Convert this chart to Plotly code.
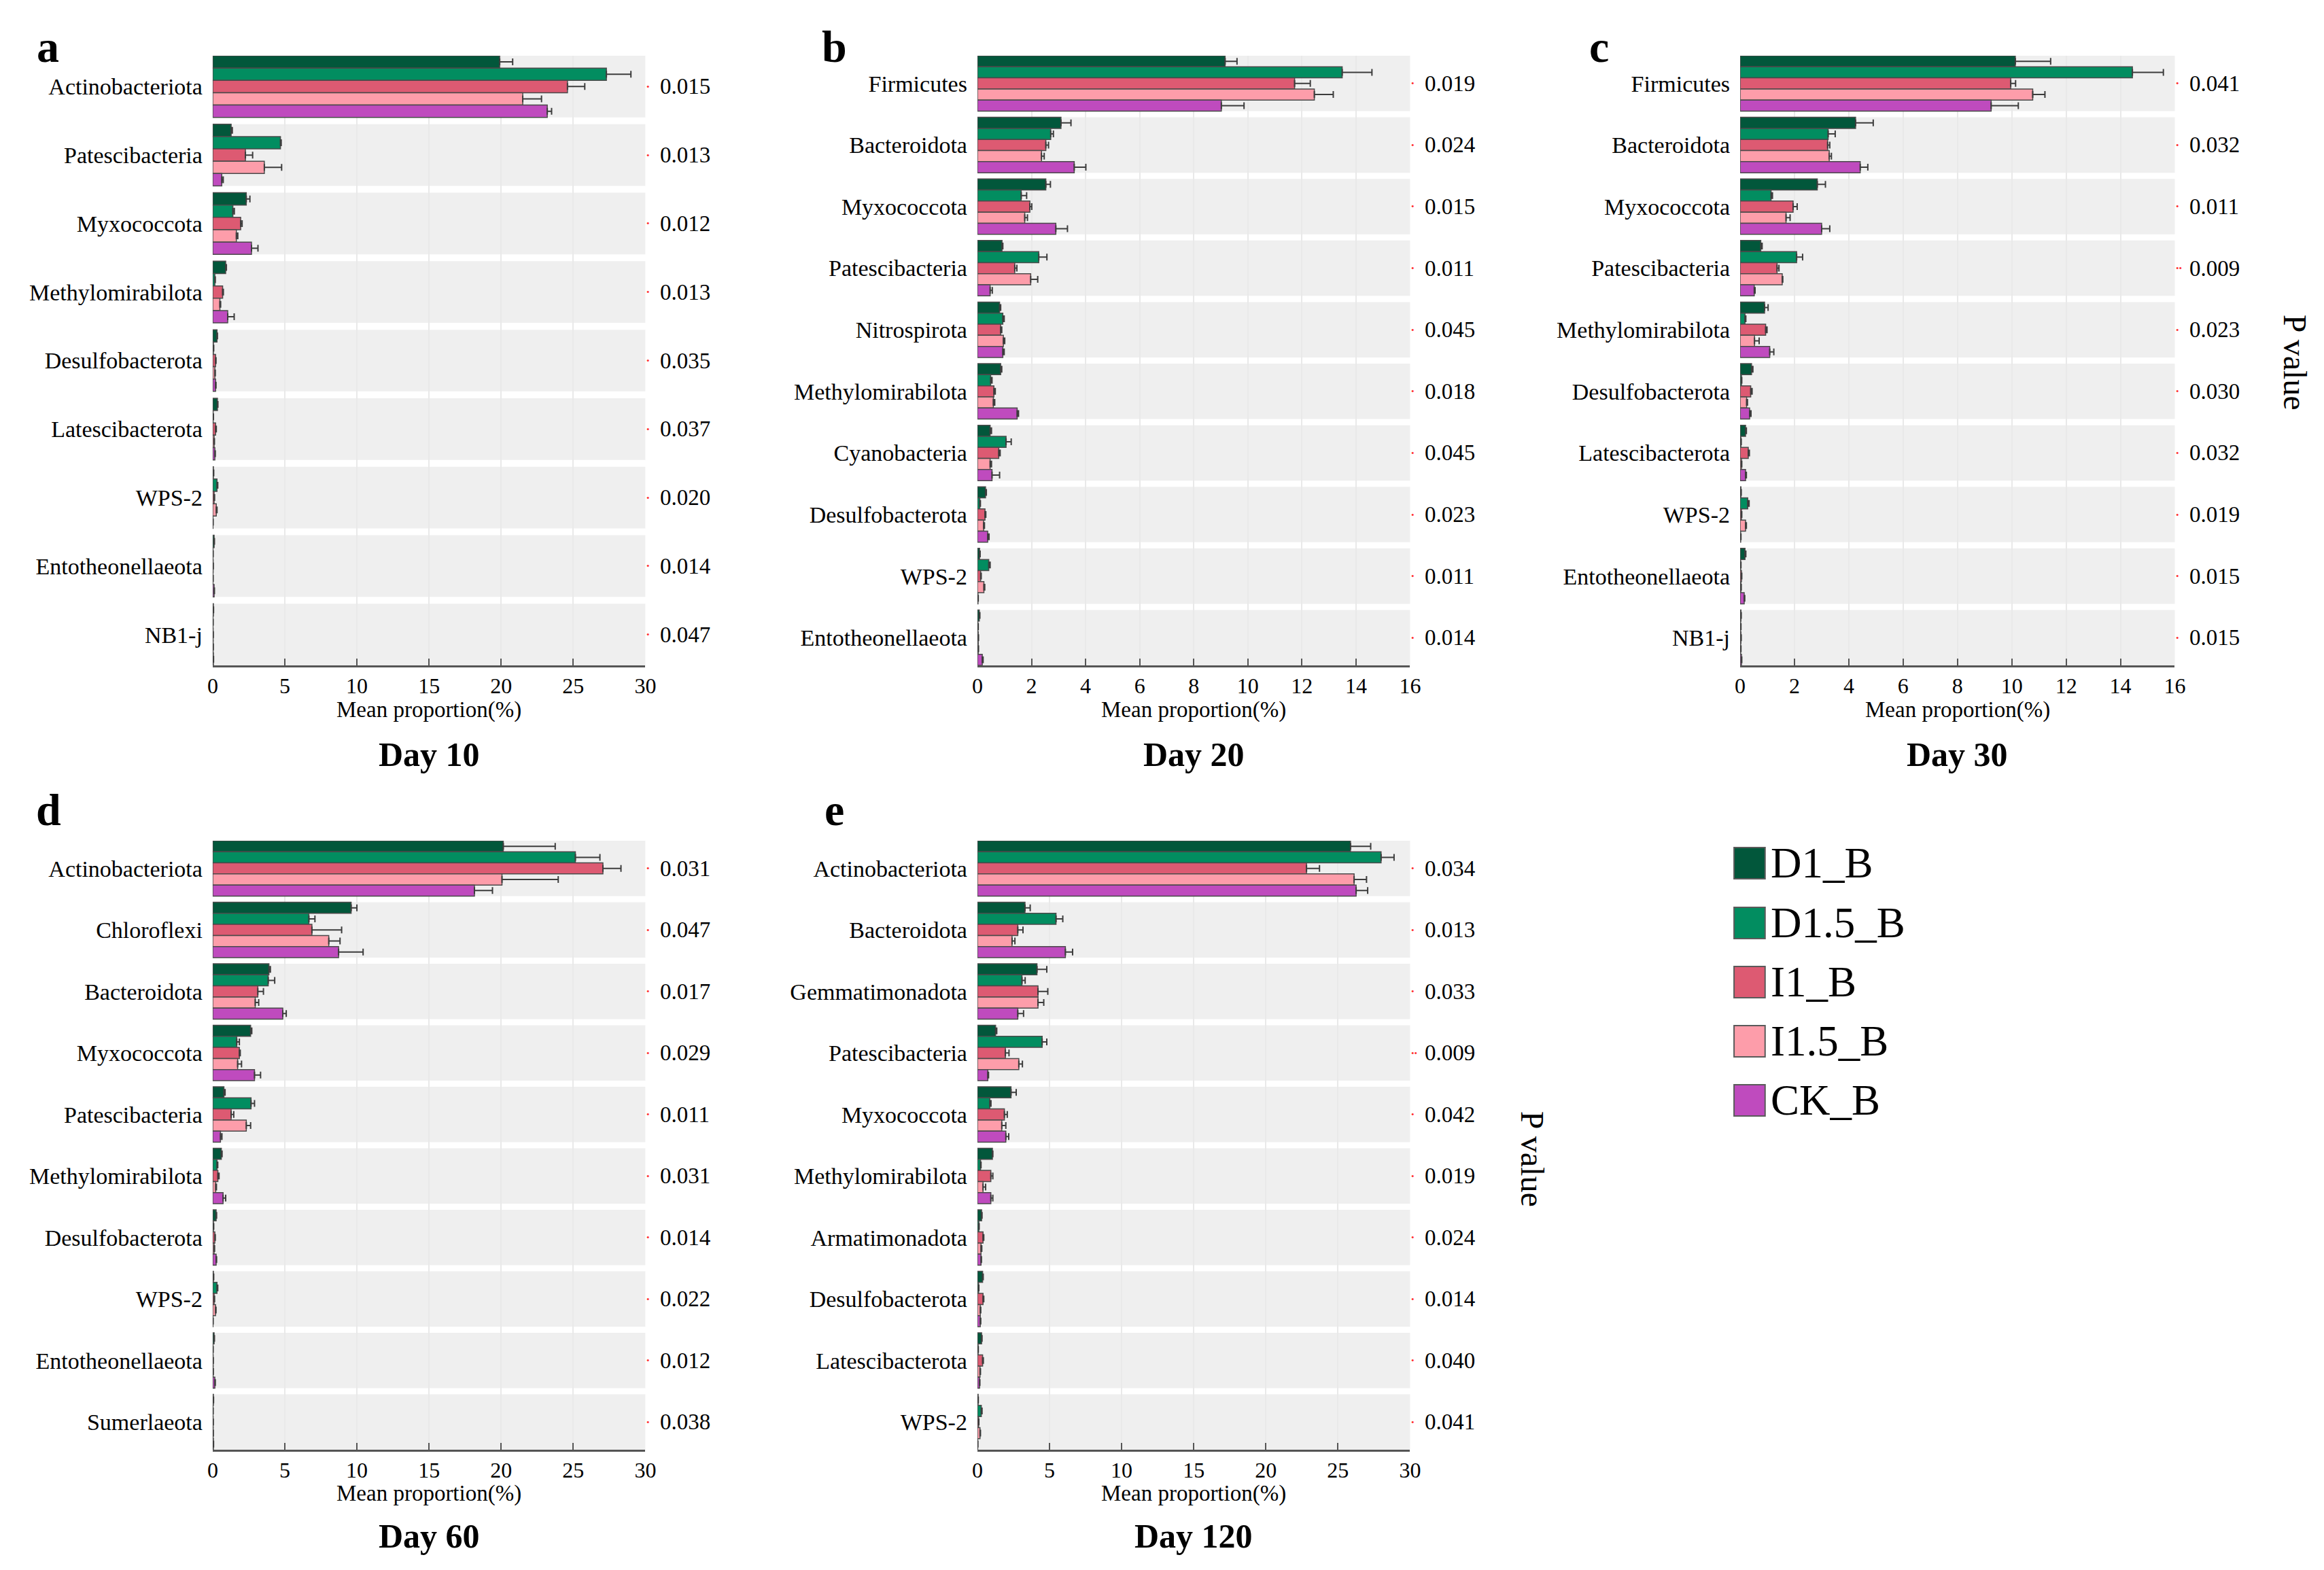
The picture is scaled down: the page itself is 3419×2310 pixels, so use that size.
import plotly.graph_objects as go

W, H = 3419, 2310
FONT = "Liberation Serif"

groups = ["D1_B", "D1.5_B", "I1_B", "I1.5_B", "CK_B"]
group_colors = ["#02573b", "#028d60", "#dd5a72", "#fd9daa", "#bf4bbe"]

# ---------------- Day 10 ----------------
d10_taxa = ["Actinobacteriota", "Patescibacteria", "Myxococcota", "Methylomirabilota",
            "Desulfobacterota", "Latescibacterota", "WPS-2", "Entotheonellaeota", "NB1-j"]
d10_D1_B = [19.9, 1.28, 2.33, 0.90, 0.30, 0.33, 0.05, 0.10, 0.05]
d10_D15_B = [27.3, 4.70, 1.40, 0.15, 0.05, 0.03, 0.30, 0.02, 0.02]
d10_I1_B = [24.6, 2.27, 1.94, 0.69, 0.20, 0.20, 0.10, 0.03, 0.03]
d10_I15_B = [21.5, 3.58, 1.64, 0.50, 0.15, 0.10, 0.25, 0.02, 0.03]
d10_CK_B = [23.2, 0.63, 2.69, 1.04, 0.20, 0.15, 0.02, 0.10, 0.05]
d10_D1_B_se = [0.9, 0.08, 0.25, 0.05, 0.03, 0.03, 0.02, 0.02, 0.01]
d10_D15_B_se = [1.7, 0.05, 0.10, 0.03, 0.02, 0.02, 0.05, 0.01, 0.01]
d10_I1_B_se = [1.2, 0.50, 0.10, 0.05, 0.03, 0.05, 0.03, 0.01, 0.01]
d10_I15_B_se = [1.3, 1.20, 0.10, 0.05, 0.03, 0.02, 0.05, 0.01, 0.01]
d10_CK_B_se = [0.3, 0.10, 0.45, 0.45, 0.03, 0.03, 0.01, 0.02, 0.01]
d10_p = [0.015, 0.013, 0.012, 0.013, 0.035, 0.037, 0.020, 0.014, 0.047]

# ---------------- Day 20 ----------------
d20_taxa = ["Firmicutes", "Bacteroidota", "Myxococcota", "Patescibacteria", "Nitrospirota",
            "Methylomirabilota", "Cyanobacteria", "Desulfobacterota", "WPS-2", "Entotheonellaeota"]
d20_D1_B = [9.16, 3.09, 2.53, 0.91, 0.82, 0.86, 0.47, 0.30, 0.08, 0.07]
d20_D15_B = [13.49, 2.71, 1.62, 2.27, 0.94, 0.49, 1.06, 0.09, 0.42, 0.02]
d20_I1_B = [11.73, 2.53, 1.94, 1.38, 0.86, 0.61, 0.79, 0.28, 0.12, 0.03]
d20_I15_B = [12.46, 2.37, 1.75, 1.97, 0.96, 0.59, 0.47, 0.23, 0.24, 0.03]
d20_CK_B = [9.02, 3.58, 2.90, 0.47, 0.94, 1.47, 0.54, 0.38, 0.02, 0.18]
d20_D1_B_se = [0.44, 0.37, 0.17, 0.03, 0.04, 0.04, 0.05, 0.03, 0.02, 0.02]
d20_D15_B_se = [1.10, 0.10, 0.20, 0.30, 0.05, 0.05, 0.19, 0.02, 0.05, 0.01]
d20_I1_B_se = [0.58, 0.10, 0.07, 0.08, 0.04, 0.05, 0.05, 0.03, 0.02, 0.01]
d20_I15_B_se = [0.70, 0.10, 0.10, 0.26, 0.05, 0.05, 0.05, 0.03, 0.03, 0.01]
d20_CK_B_se = [0.84, 0.43, 0.43, 0.08, 0.05, 0.05, 0.28, 0.05, 0.01, 0.03]
d20_p = [0.019, 0.024, 0.015, 0.011, 0.045, 0.018, 0.045, 0.023, 0.011, 0.014]

# ---------------- Day 30 ----------------
d30_taxa = ["Firmicutes", "Bacteroidota", "Myxococcota", "Patescibacteria", "Methylomirabilota",
            "Desulfobacterota", "Latescibacterota", "WPS-2", "Entotheonellaeota", "NB1-j"]
d30_D1_B = [10.13, 4.25, 2.84, 0.76, 0.90, 0.42, 0.20, 0.03, 0.18, 0.03]
d30_D15_B = [14.44, 3.24, 1.14, 2.08, 0.18, 0.05, 0.03, 0.28, 0.02, 0.02]
d30_I1_B = [9.96, 3.22, 1.95, 1.36, 0.94, 0.39, 0.30, 0.05, 0.05, 0.03]
d30_I15_B = [10.77, 3.28, 1.69, 1.55, 0.53, 0.24, 0.05, 0.20, 0.03, 0.02]
d30_CK_B = [9.24, 4.42, 3.00, 0.52, 1.09, 0.35, 0.20, 0.02, 0.15, 0.05]
d30_D1_B_se = [1.30, 0.65, 0.30, 0.05, 0.13, 0.05, 0.03, 0.01, 0.03, 0.01]
d30_D15_B_se = [1.14, 0.26, 0.05, 0.22, 0.03, 0.01, 0.01, 0.05, 0.01, 0.01]
d30_I1_B_se = [0.18, 0.08, 0.15, 0.07, 0.05, 0.05, 0.04, 0.01, 0.01, 0.01]
d30_I15_B_se = [0.45, 0.08, 0.15, 0.02, 0.17, 0.03, 0.01, 0.03, 0.01, 0.01]
d30_CK_B_se = [1.00, 0.28, 0.30, 0.03, 0.15, 0.05, 0.03, 0.01, 0.02, 0.01]
d30_p = [0.041, 0.032, 0.011, 0.009, 0.023, 0.030, 0.032, 0.019, 0.015, 0.015]

# ---------------- Day 60 ----------------
d60_taxa = ["Actinobacteriota", "Chloroflexi", "Bacteroidota", "Myxococcota", "Patescibacteria",
            "Methylomirabilota", "Desulfobacterota", "WPS-2", "Entotheonellaeota", "Sumerlaeota"]
d60_D1_B = [20.15, 9.60, 3.90, 2.63, 0.78, 0.60, 0.24, 0.05, 0.10, 0.05]
d60_D15_B = [25.15, 6.67, 3.85, 1.67, 2.66, 0.30, 0.05, 0.30, 0.02, 0.02]
d60_I1_B = [27.06, 6.88, 3.13, 1.85, 1.28, 0.36, 0.15, 0.10, 0.03, 0.03]
d60_I15_B = [20.06, 8.05, 2.95, 1.73, 2.33, 0.21, 0.10, 0.20, 0.03, 0.03]
d60_CK_B = [18.15, 8.73, 4.86, 2.90, 0.54, 0.72, 0.24, 0.02, 0.15, 0.05]
d60_D1_B_se = [3.60, 0.40, 0.10, 0.08, 0.08, 0.05, 0.03, 0.02, 0.02, 0.01]
d60_D15_B_se = [1.70, 0.42, 0.45, 0.18, 0.24, 0.05, 0.02, 0.05, 0.01, 0.01]
d60_I1_B_se = [1.25, 2.06, 0.39, 0.06, 0.18, 0.08, 0.03, 0.03, 0.01, 0.01]
d60_I15_B_se = [3.90, 0.78, 0.24, 0.27, 0.30, 0.05, 0.03, 0.03, 0.01, 0.01]
d60_CK_B_se = [1.25, 1.70, 0.24, 0.42, 0.10, 0.18, 0.03, 0.01, 0.03, 0.01]
d60_p = [0.031, 0.047, 0.017, 0.029, 0.011, 0.031, 0.014, 0.022, 0.012, 0.038]

# ---------------- Day 120 ----------------
d120_taxa = ["Actinobacteriota", "Bacteroidota", "Gemmatimonadota", "Patescibacteria", "Myxococcota",
             "Methylomirabilota", "Armatimonadota", "Desulfobacterota", "Latescibacterota", "WPS-2"]
d120_D1_B = [25.87, 3.30, 4.13, 1.26, 2.33, 1.04, 0.29, 0.36, 0.29, 0.05]
d120_D15_B = [27.99, 5.45, 3.09, 4.49, 0.86, 0.22, 0.10, 0.08, 0.05, 0.27]
d120_I1_B = [22.82, 2.80, 4.20, 1.94, 1.87, 0.93, 0.39, 0.39, 0.36, 0.08]
d120_I15_B = [26.12, 2.40, 4.20, 2.87, 1.69, 0.39, 0.25, 0.20, 0.18, 0.18]
d120_CK_B = [26.26, 6.10, 2.80, 0.72, 1.97, 0.93, 0.25, 0.20, 0.15, 0.02]
d120_D1_B_se = [1.40, 0.36, 0.68, 0.08, 0.36, 0.03, 0.03, 0.04, 0.03, 0.01]
d120_D15_B_se = [0.90, 0.47, 0.22, 0.32, 0.08, 0.03, 0.02, 0.02, 0.01, 0.05]
d120_I1_B_se = [0.90, 0.36, 0.68, 0.25, 0.20, 0.14, 0.05, 0.05, 0.05, 0.02]
d120_I15_B_se = [0.86, 0.20, 0.40, 0.25, 0.28, 0.18, 0.05, 0.03, 0.03, 0.03]
d120_CK_B_se = [0.80, 0.50, 0.40, 0.05, 0.20, 0.14, 0.03, 0.03, 0.02, 0.01]
d120_p = [0.034, 0.013, 0.033, 0.009, 0.042, 0.019, 0.024, 0.014, 0.040, 0.041]

day_labels = ["Day 10", "Day 20", "Day 30", "Day 60", "Day 120"]
panel_letters = ["a", "b", "c", "d", "e"]
x_max = [30, 16, 16, 30, 30]
x_dtick = [5, 2, 2, 5, 5]

panels = [
    (d10_taxa, [d10_D1_B, d10_D15_B, d10_I1_B, d10_I15_B, d10_CK_B],
     [d10_D1_B_se, d10_D15_B_se, d10_I1_B_se, d10_I15_B_se, d10_CK_B_se], d10_p),
    (d20_taxa, [d20_D1_B, d20_D15_B, d20_I1_B, d20_I15_B, d20_CK_B],
     [d20_D1_B_se, d20_D15_B_se, d20_I1_B_se, d20_I15_B_se, d20_CK_B_se], d20_p),
    (d30_taxa, [d30_D1_B, d30_D15_B, d30_I1_B, d30_I15_B, d30_CK_B],
     [d30_D1_B_se, d30_D15_B_se, d30_I1_B_se, d30_I15_B_se, d30_CK_B_se], d30_p),
    (d60_taxa, [d60_D1_B, d60_D15_B, d60_I1_B, d60_I15_B, d60_CK_B],
     [d60_D1_B_se, d60_D15_B_se, d60_I1_B_se, d60_I15_B_se, d60_CK_B_se], d60_p),
    (d120_taxa, [d120_D1_B, d120_D15_B, d120_I1_B, d120_I15_B, d120_CK_B],
     [d120_D1_B_se, d120_D15_B_se, d120_I1_B_se, d120_I15_B_se, d120_CK_B_se], d120_p),
]

# ---------------- layout geometry (pixels) ----------------
def px(x):
    return x / W

def py(y):
    return 1 - y / H

col_px = [(299, 940), (1432, 2073), (2562, 3206), (299, 940), (1432, 2073)]
row_px = [(74, 971), (74, 971), (74, 971), (1229, 2125), (1229, 2125)]
letter_pos = [(55, 60), (1220, 60), (2353, 60), (56, 1183), (1220, 1183)]
day_y = [1102, 1102, 1102, 2252, 2252]
xtitle_y = [1036, 1036, 1036, 2189, 2189]

fig = go.Figure()
shapes = []
annotations = []
layout_axes = {}

for k, (taxa, means, errs, pvals) in enumerate(panels):
    idx = k + 1
    xa = "x" if idx == 1 else f"x{idx}"
    ya = "y" if idx == 1 else f"y{idx}"
    n = len(taxa)
    for g in range(5):
        fig.add_trace(go.Bar(
            y=taxa, x=means[g], orientation="h", name=groups[g],
            xaxis=xa, yaxis=ya, showlegend=False,
            marker=dict(color=group_colors[g], line=dict(color="#4a4a4a", width=1.5)),
            error_x=dict(type="data", array=errs[g], arrayminus=[0] * n, symmetric=False,
                         color="#3c3c3c", thickness=2, width=5),
        ))
    x0p, x1p = col_px[k]
    y0p, y1p = row_px[k]
    layout_axes["xaxis" if idx == 1 else f"xaxis{idx}"] = dict(
        domain=[px(x0p), px(x1p)], anchor=ya, range=[0, x_max[k]],
        tickmode="linear", tick0=0, dtick=x_dtick[k],
        ticks="inside", ticklen=10, tickwidth=2, tickcolor="#555555",
        showline=True, linecolor="#555555", linewidth=3,
        showgrid=True, gridcolor="#e9e9e9", gridwidth=2, zeroline=False,
        tickfont=dict(family=FONT, size=32, color="black"), fixedrange=True,
    )
    layout_axes["yaxis" if idx == 1 else f"yaxis{idx}"] = dict(
        domain=[py(y1p), py(y0p)], anchor=xa, type="category",
        categoryorder="array", categoryarray=taxa,
        range=[n - 1 + 0.45, -0.45], showgrid=False, zeroline=False, showline=False,
        ticks="", ticklabelstandoff=14,
        tickfont=dict(family=FONT, size=34, color="black"), fixedrange=True,
    )
    # grey category bands
    for i in range(n):
        shapes.append(dict(type="rect", xref=f"{xa} domain", yref=ya,
                           x0=0, x1=1, y0=i - 0.45, y1=i + 0.45,
                           fillcolor="#efefef", line=dict(width=0), layer="below"))
    # p values and significance dots
    for i, p in enumerate(pvals):
        annotations.append(dict(xref=f"{xa} domain", yref=ya, x=1, y=taxa[i],
                                xanchor="left", yanchor="middle", xshift=0,
                                text="••" if p < 0.01 else "•", showarrow=False,
                                font=dict(family=FONT, size=13, color="#ff2a2a")))
        annotations.append(dict(xref=f"{xa} domain", yref=ya, x=1, y=taxa[i],
                                xanchor="left", yanchor="middle", xshift=20,
                                text=f"{p:.3f}", showarrow=False,
                                font=dict(family=FONT, size=33, color="black")))
    # axis title, day label, panel letter
    cx = (x0p + x1p) / 2
    annotations.append(dict(xref="paper", yref="paper", x=px(cx), y=py(xtitle_y[k]),
                            xanchor="center", yanchor="middle", showarrow=False,
                            text="Mean proportion(%)",
                            font=dict(family=FONT, size=33, color="black")))
    annotations.append(dict(xref="paper", yref="paper", x=px(cx), y=py(day_y[k]),
                            xanchor="center", yanchor="middle", showarrow=False,
                            text=f"<b>{day_labels[k]}</b>",
                            font=dict(family=FONT, size=50, color="black")))
    lx, ly = letter_pos[k]
    annotations.append(dict(xref="paper", yref="paper", x=px(lx), y=py(ly),
                            xanchor="center", yanchor="middle", showarrow=False,
                            text=f"<b>{panel_letters[k]}</b>",
                            font=dict(family=FONT, size=66, color="black")))

# "P value" side titles
for (tx, ty) in [(3385, 525), (2255, 1697)]:
    annotations.append(dict(xref="paper", yref="paper", x=px(tx), y=py(ty),
                            xanchor="center", yanchor="middle", showarrow=False,
                            text="P value", textangle=90,
                            font=dict(family=FONT, size=48, color="black")))

# custom legend
leg_y = [1262, 1350, 1437, 1524, 1611]
for g in range(5):
    cy = leg_y[g]
    shapes.append(dict(type="rect", xref="paper", yref="paper",
                       x0=px(2553), x1=px(2599), y0=py(cy + 23), y1=py(cy - 23),
                       fillcolor=group_colors[g], line=dict(color="#5a5a5a", width=2),
                       layer="above"))
    annotations.append(dict(xref="paper", yref="paper", x=px(2605), y=py(cy),
                            xanchor="left", yanchor="middle", showarrow=False,
                            text=groups[g],
                            font=dict(family=FONT, size=63, color="black")))

fig.update_layout(
    width=W, height=H, autosize=False,
    margin=dict(l=0, r=0, t=0, b=0, pad=0),
    paper_bgcolor="white", plot_bgcolor="white",
    barmode="group", bargap=0.1, bargroupgap=0,
    showlegend=False,
    font=dict(family=FONT, color="black"),
    shapes=shapes, annotations=annotations,
    **layout_axes,
)

fig.write_html("out.html")
